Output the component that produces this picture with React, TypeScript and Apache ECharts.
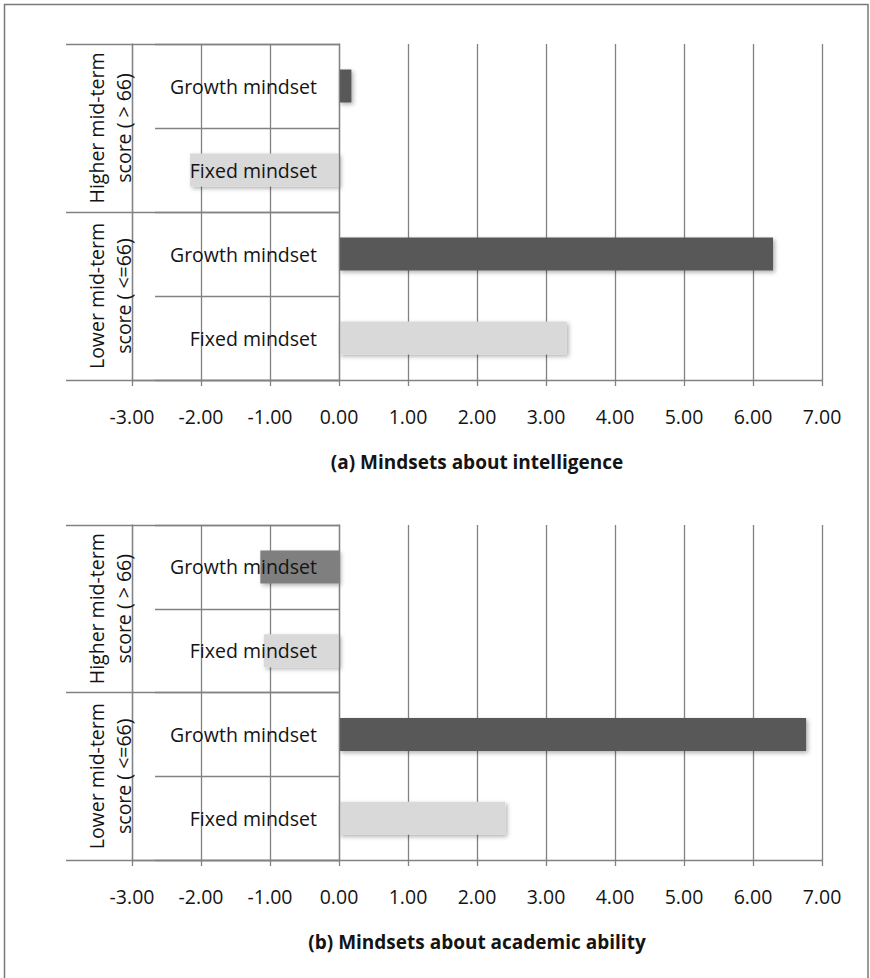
import React, { useEffect, useRef } from "react";
import * as echarts from "echarts";

// ---- data (bottom -> top order for category axes) ----
const rowLabels = ["Fixed mindset", "Growth mindset", "Fixed mindset", "Growth mindset"];
const groupLabels = ["Lower mid-term\nscore ( <=66)", "Higher mid-term\nscore ( > 66)"];
const intelligenceValues = [3.3, 6.29, -2.16, 0.18];
const academicValues = [2.41, 6.77, -1.09, -1.14];
const chartTitles = ["(a) Mindsets about intelligence", "(b) Mindsets about academic ability"];
const X_MIN = -3;
const X_MAX = 7;
const X_STEP = 1;

const FONT = "'Open Sans', 'Noto Sans', sans-serif";
const LINE = "#828282";
const LINE_W = 1.3;
const TEXT = "#141414";
const FIXED_COLOR = "#d9d9d9";
const GROWTH_COLOR = "#595959";
const GROWTH_SOFT = "#7f7f7f";

const GRID_LEFT = 132;
const GRID_WIDTH = 690;

function buildOption() {
  const grids = [
    { left: GRID_LEFT, width: GRID_WIDTH, top: 44, height: 336, containLabel: false, outerBoundsMode: "none" },
    { left: GRID_LEFT, width: GRID_WIDTH, top: 525, height: 335, containLabel: false, outerBoundsMode: "none" },
  ];
  // pixel offset of the zero line from the grid's left edge
  const zeroOffset = (GRID_WIDTH * (0 - X_MIN)) / (X_MAX - X_MIN);
  const lineStyle = { color: LINE, width: LINE_W };
  const xAxis: any[] = [];
  const yAxis: any[] = [];
  const series: any[] = [];
  [intelligenceValues, academicValues].forEach((values, g) => {
    xAxis.push({
      type: "value",
      gridIndex: g,
      min: X_MIN,
      max: X_MAX,
      interval: X_STEP,
      axisLine: { show: true, onZero: false, lineStyle },
      axisTick: { show: true, length: 6, lineStyle },
      splitLine: { show: true, lineStyle },
      axisLabel: {
        formatter: (v: number) => v.toFixed(2),
        margin: 26,
        fontSize: 19.5,
        color: TEXT,
        fontFamily: FONT,
      },
      name: chartTitles[g],
      nameLocation: "middle",
      nameGap: 72,
      nameTextStyle: { fontSize: 19, fontWeight: "bold", color: TEXT, fontFamily: FONT },
    });
    // inner category axis (placed on the zero line)
    yAxis.push({
      type: "category",
      gridIndex: g,
      position: "left",
      offset: -zeroOffset,
      data: rowLabels,
      z: 5,
      axisLine: { show: true, onZero: false, lineStyle },
      axisTick: { show: true, interval: 0, length: 184, lineStyle },
      axisLabel: { interval: 0, margin: 22, fontSize: 19.5, color: TEXT, fontFamily: FONT },
      splitLine: { show: false },
    });
    // group boundaries inside the label area
    yAxis.push({
      type: "category",
      gridIndex: g,
      position: "left",
      data: groupLabels,
      z: 5,
      axisLine: { show: true, onZero: false, lineStyle },
      axisTick: { show: true, interval: 0, inside: true, length: zeroOffset, lineStyle },
      axisLabel: { show: false },
      splitLine: { show: false },
    });
    // group labels and outer boundary ticks
    yAxis.push({
      type: "category",
      gridIndex: g,
      position: "left",
      data: groupLabels,
      z: 5,
      axisLine: { show: false, onZero: false },
      axisTick: { show: true, interval: 0, length: 66, lineStyle },
      axisLabel: {
        interval: 0,
        rotate: 90,
        margin: 22,
        align: "center",
        verticalAlign: "middle",
        fontSize: 19.5,
        lineHeight: 27,
        color: TEXT,
        fontFamily: FONT,
      },
      splitLine: { show: false },
    });
    series.push({
      type: "bar",
      xAxisIndex: g,
      yAxisIndex: g * 3,
      barWidth: 33,
      z: 2,
      itemStyle: {
        shadowBlur: 4,
        shadowOffsetX: 2,
        shadowOffsetY: 2,
        shadowColor: "rgba(0,0,0,0.3)",
      },
      data: values.map((v, i) => ({
        value: v,
        itemStyle: {
          color: i % 2 === 0 ? FIXED_COLOR : g === 1 && i === 3 ? GROWTH_SOFT : GROWTH_COLOR,
        },
      })),
    });
  });
  return {
    animation: false,
    backgroundColor: "#ffffff",
    grid: grids,
    xAxis,
    yAxis,
    series,
    graphic: [
      {
        type: "rect",
        silent: true,
        shape: { x: 4.5, y: 4.5, width: 863.5, height: 990 },
        style: { fill: "none", stroke: "#7a7a7a", lineWidth: 1.5 },
      },
    ],
  };
}

export default function App() {
  const ref = useRef<HTMLDivElement>(null);
  useEffect(() => {
    if (!ref.current) return;
    const chart = echarts.init(ref.current, null, { renderer: "svg" });
    chart.setOption(buildOption() as any);
    return () => chart.dispose();
  }, []);
  return (
    <div
      ref={ref}
      style={{ position: "absolute", left: 0, top: 0, width: 870, height: 978, background: "#fff" }}
    />
  );
}
